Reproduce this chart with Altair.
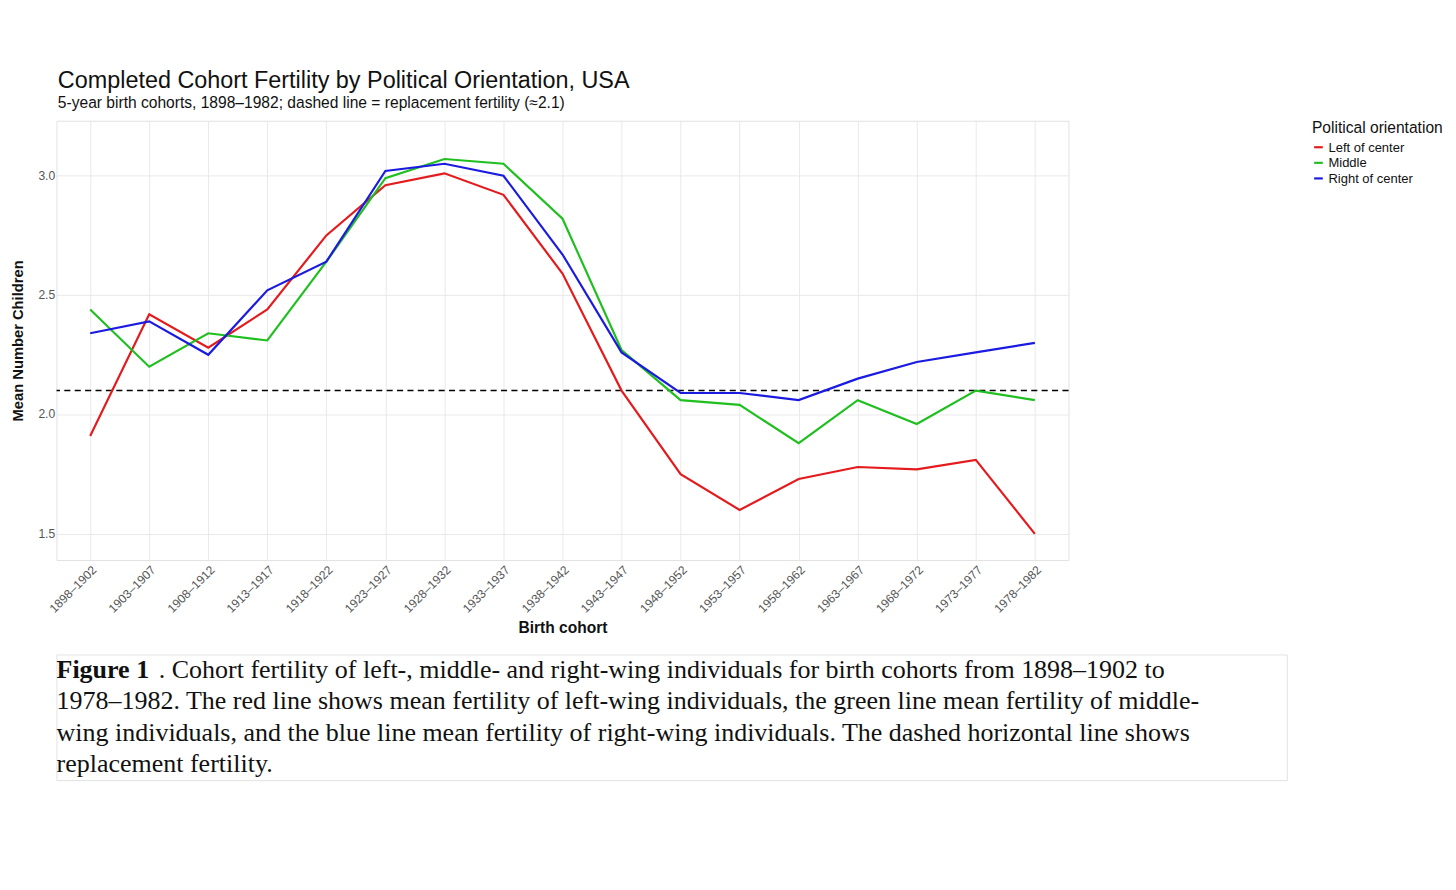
import pandas as pd
import altair as alt

cohorts = ["1898–1902", "1903–1907", "1908–1912", "1913–1917", "1918–1922", "1923–1927",
           "1928–1932", "1933–1937", "1938–1942", "1943–1947", "1948–1952", "1953–1957",
           "1958–1962", "1963–1967", "1968–1972", "1973–1977", "1978–1982"]
left = [1.91, 2.42, 2.28, 2.44, 2.75, 2.96, 3.01, 2.92, 2.59, 2.10, 1.75, 1.60, 1.73, 1.78, 1.77, 1.81, 1.50]
middle = [2.44, 2.20, 2.34, 2.31, 2.64, 2.99, 3.07, 3.05, 2.82, 2.27, 2.06, 2.04, 1.88, 2.06, 1.96, 2.10, 2.06]
right = [2.34, 2.39, 2.25, 2.52, 2.64, 3.02, 3.05, 3.00, 2.67, 2.26, 2.09, 2.09, 2.06, 2.15, 2.22, 2.26, 2.30]
groups = ["Left of center", "Middle", "Right of center"]
colors = ["#e41a1c", "#1fbf1f", "#1a1ae0"]
replacement = 2.1

caption_first = "Figure 1"
caption_lines = [
    ".  Cohort fertility of left-, middle- and right-wing individuals for birth cohorts from 1898–1902 to",
    "1978–1982. The red line shows mean fertility of left-wing individuals, the green line mean fertility of middle-",
    "wing individuals, and the blue line mean fertility of right-wing individuals. The dashed horizontal line shows",
    "replacement fertility.",
]

rows = []
for g, vals in zip(groups, [left, middle, right]):
    for c, v in zip(cohorts, vals):
        rows.append({"cohort": c, "value": v, "group": g})
df = pd.DataFrame(rows)

x = alt.X("cohort:O", sort=cohorts, title="Birth cohort",
          scale=alt.Scale(type="point", padding=0.57),
          axis=alt.Axis(labelAngle=-45, labelFontSize=14, labelColor="#555", titleFontSize=18,
                        titleColor="#111", grid=True, gridColor="#e6e6e6", domain=False, ticks=False,
                        titlePadding=6, labelPadding=4))

lines = alt.Chart(df).mark_line(strokeWidth=2.5).encode(
    x=x,
    y=alt.Y("value:Q", title="Mean Number Children",
            scale=alt.Scale(domain=[1.39, 3.23], nice=False, zero=False),
            axis=alt.Axis(values=[1.5, 2.0, 2.5, 3.0], format=".1f", labelFontSize=14, labelColor="#555",
                          titleFontSize=17, titleColor="#111", gridColor="#e6e6e6", domain=False,
                          ticks=False, titlePadding=14)),
    color=alt.Color("group:N", scale=alt.Scale(domain=groups, range=colors),
                    legend=alt.Legend(title="Political orientation", titleFontSize=18, labelFontSize=15,
                                      titleFontWeight="normal", symbolType="stroke", symbolStrokeWidth=2.5,
                                      titleColor="#111", labelColor="#111", offset=28)),
)

rule = alt.Chart(pd.DataFrame({"y": [replacement]})).mark_rule(
    strokeDash=[7, 5], color="black", strokeWidth=1.8).encode(y="y:Q")

main = alt.layer(rule, lines).properties(
    width=1168, height=507,
    title=alt.TitleParams("Completed Cohort Fertility by Political Orientation, USA",
                          subtitle="5-year birth cohorts, 1898–1982; dashed line = replacement fertility (≈2.1)",
                          fontSize=27, fontWeight="normal", subtitleFontSize=18, anchor="start",
                          color="#111", subtitleColor="#111", offset=10, dx=55),
)

cap = pd.DataFrame({"line": list(range(len(caption_lines))), "text": caption_lines,
                    "bold": [caption_first, "", "", ""]})
ymap = alt.Y("line:O", axis=None, scale=alt.Scale(paddingOuter=0.5))
style = dict(align="left", baseline="middle", font="Liberation Serif", fontSize=30, color="#111")
cap_first = alt.Chart(cap).transform_filter(alt.datum.line == 0).mark_text(dx=118, **style).encode(
    x=alt.value(0), y=ymap, text="text:N")
cap_rest = alt.Chart(cap).transform_filter(alt.datum.line > 0).mark_text(**style).encode(
    x=alt.value(0), y=ymap, text="text:N")
cap_bold = alt.Chart(cap).transform_filter(alt.datum.line == 0).mark_text(
    fontWeight="bold", **style).encode(x=alt.value(0), y=ymap, text="bold:N")
caption = alt.layer(cap_bold, cap_first, cap_rest).properties(width=1420, height=145)

chart = alt.vconcat(main, caption, spacing=20).configure_view(stroke=None).configure(
    font="Arial").properties(padding={"left": 2, "top": 5, "right": 5, "bottom": 5})

chart.save("out.html", embed_options={"renderer": "svg", "actions": False})
